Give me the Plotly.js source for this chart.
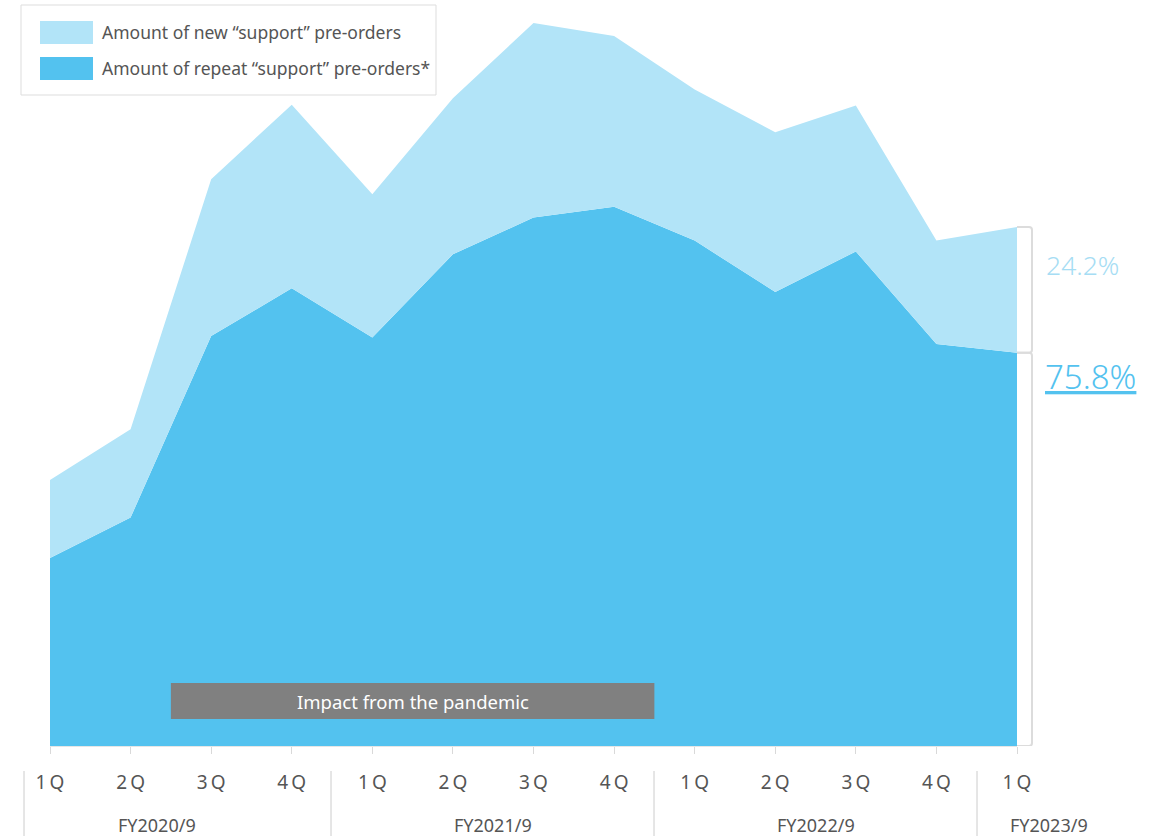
<!DOCTYPE html>
<html>
<head>
<meta charset="utf-8">
<script src="https://cdn.plot.ly/plotly-3.0.1.min.js"></script>
<style>
  html, body { margin: 0; padding: 0; background: #ffffff; }
  #chart { width: 1163px; height: 836px; }
</style>
</head>
<body>
<div id="chart"></div>
<script>
// Quarterly "support" pre-order amounts (index, peak total = 100)
const quarters = ['1Q', '2Q', '3Q', '4Q', '1Q', '2Q', '3Q', '4Q', '1Q', '2Q', '3Q', '4Q', '1Q'];
const fiscalYears = ['FY2020/9', 'FY2021/9', 'FY2022/9', 'FY2023/9'];
const repeatOrders = [26.0, 31.6, 56.7, 63.3, 56.5, 68.0, 73.1, 74.6, 69.9, 62.8, 68.4, 55.6, 54.4];
const newOrders    = [10.8, 12.2, 21.7, 25.4, 19.8, 21.6, 26.9, 23.6, 20.9, 22.1, 20.2, 14.3, 17.4];
const seriesNames = ['Amount of new \u201csupport\u201d pre-orders', 'Amount of repeat \u201csupport\u201d pre-orders*'];
const bandLabel = 'Impact from the pandemic';

// Page geometry
const W = 1163, H = 836;
const M = { l: 50, r: 146, t: 23, b: 90 };
const PW = W - M.l - M.r, PH = H - M.t - M.b;
const YMAX = 100;
const px = v => (v - M.l) / PW;             // page x (px) -> paper x
const py = v => (H - M.b - v) / PH;         // page y (px) -> paper y
const dyPx = YMAX / PH;                     // one pixel in y data units

const LIGHT = '#b2e4f8';
const DARK = '#53c2ef';
const TEXT = '#555555';
const FONT = '"Noto Sans", "Open Sans", sans-serif';

const xs = quarters.map((_, i) => i);
const last = quarters.length - 1;
const lastTotal = repeatOrders[last] + newOrders[last];
const repeatShare = (repeatOrders[last] / lastTotal * 100).toFixed(1) + '%';
const newShare = (newOrders[last] / lastTotal * 100).toFixed(1) + '%';

const traces = [
  {
    x: xs, y: repeatOrders, name: seriesNames[1], type: 'scatter', mode: 'lines',
    stackgroup: 'orders', line: { width: 0, color: DARK }, fillcolor: DARK, hoverinfo: 'skip'
  },
  {
    x: xs, y: newOrders, name: seriesNames[0], type: 'scatter', mode: 'lines',
    stackgroup: 'orders', line: { width: 0, color: LIGHT }, fillcolor: LIGHT, hoverinfo: 'skip'
  }
];

// Bracket beside the last quarter, one segment per share
function bracket(yb, yt) {
  const x0 = px(1017), x1 = px(1032), rx = 3 / PW, ry = 3 * dyPx;
  return {
    type: 'path', xref: 'paper', yref: 'y', layer: 'above',
    path: `M ${x0},${yt} L ${x1 - rx},${yt} Q ${x1},${yt} ${x1},${yt - ry} ` +
          `L ${x1},${yb + ry} Q ${x1},${yb} ${x1 - rx},${yb} L ${x0},${yb}`,
    line: { color: '#dcdcdc', width: 2 }
  };
}

const shapes = [
  bracket(repeatOrders[last], lastTotal),
  bracket(0, repeatOrders[last]),
  // legend frame and swatches
  { type: 'rect', xref: 'paper', yref: 'paper', x0: px(21), x1: px(436), y0: py(95), y1: py(5),
    line: { color: '#dddddd', width: 1 }, fillcolor: 'rgba(255,255,255,0)' },
  { type: 'rect', xref: 'paper', yref: 'paper', x0: px(40), x1: px(93), y0: py(44), y1: py(21),
    line: { width: 0 }, fillcolor: LIGHT },
  { type: 'rect', xref: 'paper', yref: 'paper', x0: px(40), x1: px(93), y0: py(80), y1: py(57),
    line: { width: 0 }, fillcolor: DARK },
  // pandemic band
  { type: 'rect', xref: 'x', yref: 'paper', x0: 1.5, x1: 7.5, y0: py(719), y1: py(683),
    line: { width: 0 }, fillcolor: '#808080', layer: 'above' }
];

// Fiscal-year dividers below the axis
[24, 331, 654, 977].forEach(p => shapes.push({
  type: 'line', xref: 'paper', yref: 'paper', x0: px(p), x1: px(p), y0: py(771), y1: py(836),
  line: { color: '#cccccc', width: 1 }
}));

const annotations = [
  { xref: 'paper', yref: 'paper', x: px(100), y: py(32), xanchor: 'left', yanchor: 'middle',
    text: seriesNames[0], showarrow: false, font: { family: FONT, size: 17.5, color: TEXT } },
  { xref: 'paper', yref: 'paper', x: px(100), y: py(68), xanchor: 'left', yanchor: 'middle',
    text: seriesNames[1], showarrow: false, font: { family: FONT, size: 17.5, color: TEXT } },
  { xref: 'x', yref: 'paper', x: 4.5, y: py(701), xanchor: 'center', yanchor: 'middle',
    text: bandLabel, showarrow: false, font: { family: FONT, size: 18.5, color: '#ffffff' } },
  { xref: 'paper', yref: 'paper', x: px(1044), y: py(265), xanchor: 'left', yanchor: 'middle',
    text: newShare, showarrow: false, font: { family: FONT, size: 26.5, color: '#a6ddf4', weight: 300 } },
  { xref: 'paper', yref: 'paper', x: px(1043), y: py(376), xanchor: 'left', yanchor: 'middle',
    text: '<u>' + repeatShare + '</u>', showarrow: false, font: { family: FONT, size: 33, color: DARK, weight: 300 } }
];

const fyCenters = [157, 493, 816, 1049];
fiscalYears.forEach((fy, i) => annotations.push({
  xref: 'paper', yref: 'paper', x: px(fyCenters[i]), y: py(825), xanchor: 'center', yanchor: 'middle',
  text: fy, showarrow: false, font: { family: FONT, size: 18, color: TEXT }
}));

const layout = {
  width: W, height: H,
  margin: M,
  paper_bgcolor: '#ffffff', plot_bgcolor: '#ffffff',
  showlegend: false,
  xaxis: {
    range: [0, last], tickmode: 'array', tickvals: xs,
    ticktext: quarters.map(q => q.split('').join('\u2009')),
    ticks: 'outside', ticklen: 7, tickwidth: 1, tickcolor: '#d9d9d9',
    showline: true, linecolor: '#e6e6e6', linewidth: 1,
    showgrid: false, zeroline: false, fixedrange: true,
    ticklabelstandoff: 12,
    tickfont: { family: FONT, size: 19, color: TEXT }
  },
  yaxis: {
    range: [0, YMAX], visible: false, fixedrange: true
  },
  shapes: shapes,
  annotations: annotations
};

Plotly.newPlot('chart', traces, layout, { displayModeBar: false, staticPlot: true });
</script>
</body>
</html>
